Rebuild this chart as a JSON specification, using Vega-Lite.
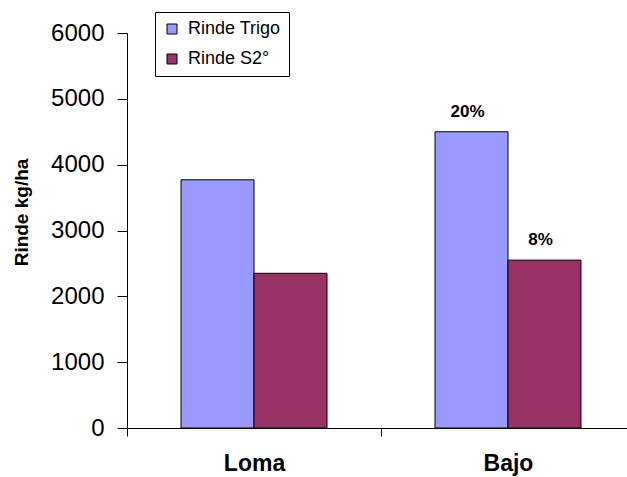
{
  "$schema": "https://vega.github.io/schema/vega-lite/v6.json",
  "width": 500,
  "height": 395,
  "autosize": {"type": "none"},
  "padding": {"left": 127, "top": 33, "right": 0, "bottom": 49},
  "background": "white",
  "config": {
    "view": {"stroke": null},
    "font": "Liberation Sans",
    "axis": {"domainColor": "black", "tickColor": "black", "labelColor": "black", "titleColor": "black", "grid": false}
  },
  "data": {
    "values": [
      {"sitio": "Loma", "serie": "Rinde Trigo", "rinde": 3770, "etiqueta": ""},
      {"sitio": "Loma", "serie": "Rinde S2°", "rinde": 2350, "etiqueta": ""},
      {"sitio": "Bajo", "serie": "Rinde Trigo", "rinde": 4500, "etiqueta": "20%"},
      {"sitio": "Bajo", "serie": "Rinde S2°", "rinde": 2550, "etiqueta": "8%"}
    ]
  },
  "encoding": {
    "x": {
      "field": "sitio",
      "type": "nominal",
      "sort": ["Loma", "Bajo"],
      "scale": {"range": [0, 508], "paddingInner": 0, "paddingOuter": 0},
      "axis": {
        "title": null,
        "labelAngle": 0,
        "labelFontSize": 23,
        "labelFontWeight": "bold",
        "labelBaseline": "middle",
        "labelPadding": 27,
        "tickSize": 8,
        "tickBand": "extent"
      }
    },
    "xOffset": {
      "field": "serie",
      "type": "nominal",
      "sort": ["Rinde Trigo", "Rinde S2°"],
      "scale": {"paddingInner": 0, "paddingOuter": 0.74}
    },
    "y": {
      "field": "rinde",
      "type": "quantitative",
      "scale": {"domain": [0, 6000], "nice": false},
      "axis": {
        "values": [0, 1000, 2000, 3000, 4000, 5000, 6000],
        "format": "d",
        "tickSize": 10,
        "labelFontSize": 24,
        "labelPadding": 13,
        "title": "Rinde kg/ha",
        "titleFontSize": 19,
        "titleFontWeight": "bold",
        "titleAngle": -90,
        "titleAlign": "center",
        "titleBaseline": "middle",
        "titleX": -106,
        "titleY": 179
      }
    }
  },
  "layer": [
    {
      "mark": {"type": "bar", "stroke": "black", "strokeWidth": 1},
      "encoding": {
        "color": {
          "field": "serie",
          "type": "nominal",
          "scale": {"domain": ["Rinde Trigo", "Rinde S2°"], "range": ["#9999FF", "#993366"]},
          "legend": {
            "title": null,
            "orient": "none",
            "legendX": 28,
            "legendY": -21,
            "strokeColor": "black",
            "fillColor": "white",
            "padding": 8,
            "labelFontSize": 18,
            "labelColor": "black",
            "labelOffset": 7,
            "rowPadding": 12,
            "symbolType": "square",
            "symbolSize": 100,
            "symbolStrokeColor": "black",
            "symbolStrokeWidth": 1,
            "symbolOpacity": 1
          }
        }
      }
    },
    {
      "mark": {"type": "text", "fontWeight": "bold", "fontSize": 17, "dy": -20, "dx": -4, "baseline": "middle", "color": "black"},
      "encoding": {
        "text": {"field": "etiqueta"}
      }
    }
  ]
}
